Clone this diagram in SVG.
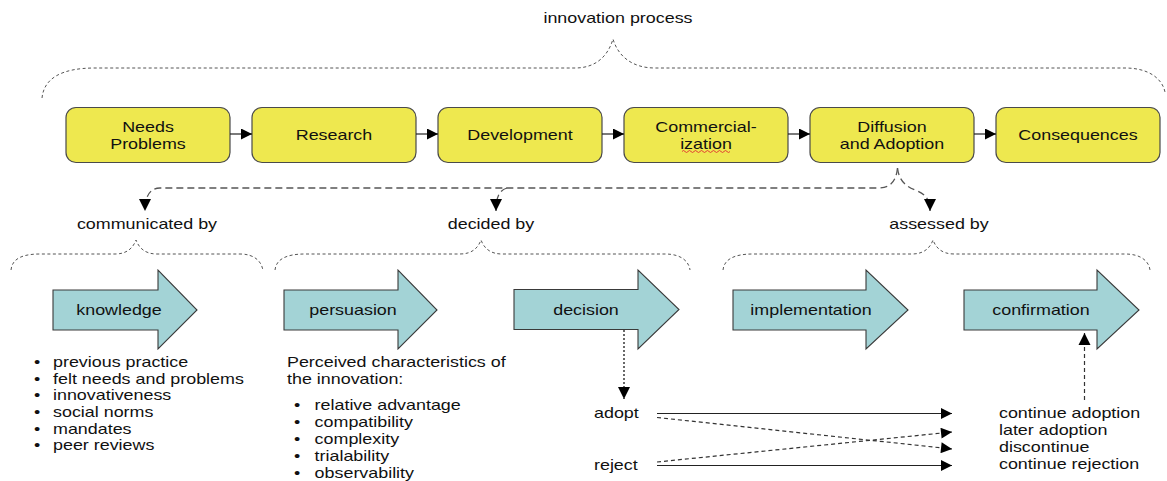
<svg xmlns="http://www.w3.org/2000/svg" width="1167" height="481" viewBox="0 0 1167 481">
<defs>
<style>
text{font-family:"Liberation Sans",Arial,sans-serif;font-size:14.8px;fill:#111}
.c{text-anchor:middle}
.box{fill:#EEE84F;stroke:#4a4a4a;stroke-width:1.2}
.big{fill:#A3D3D6;stroke:#3a3a3a;stroke-width:1.1}
.brace{fill:none;stroke:#555;stroke-width:1;stroke-dasharray:3 2.5}
.brace2{fill:none;stroke:#555;stroke-width:1.3;stroke-dasharray:7 4}
.solid{fill:none;stroke:#222;stroke-width:1.2}
.dash{fill:none;stroke:#333;stroke-width:1.2;stroke-dasharray:4 3}
.dot{fill:none;stroke:#444;stroke-width:1.6;stroke-dasharray:2 2}
</style>
<marker id="tri" viewBox="0 0 10 10" refX="10" refY="5" markerWidth="14" markerHeight="11" markerUnits="userSpaceOnUse" orient="auto"><path d="M0,0 L10,5 L0,10 z" fill="#000"/></marker>
<marker id="tri2" viewBox="0 0 10 10" refX="10" refY="5" markerWidth="12" markerHeight="13" markerUnits="userSpaceOnUse" orient="auto"><path d="M0,0 L10,5 L0,10 z" fill="#000"/></marker>
</defs>

<g id="title">
<g transform="scale(1.21,1)"><text class="c" x="510.74" y="23">innovation process</text></g>
<path class="brace" d="M42 98 C44 78,62 68,95 68 L575 68 C596 68,608 56,613 39 C618 56,632 68,655 68 L1125 68 C1148 68,1162 78,1165 92"/>
</g>

<g id="box-needs"><rect class="box" x="66" y="107.5" width="164" height="55" rx="10"/><g transform="scale(1.21,1)"><text class="c" x="122.31" y="132">Needs</text><text class="c" x="122.31" y="149">Problems</text></g></g>
<g id="box-research"><rect class="box" x="252" y="107.5" width="164" height="55" rx="10"/><g transform="scale(1.21,1)"><text class="c" x="276.03" y="140.5">Research</text></g></g>
<g id="box-development"><rect class="box" x="438" y="107.5" width="164" height="55" rx="10"/><g transform="scale(1.21,1)"><text class="c" x="429.75" y="140.5">Development</text></g></g>
<g id="box-commercialization"><rect class="box" x="624" y="107.5" width="164" height="55" rx="10"/><g transform="scale(1.21,1)"><text class="c" x="583.47" y="132">Commercial-</text><text class="c" x="583.47" y="149">ization</text></g><path d="M682 151.5 q1.5 -2 3 0 t3 0 t3 0 t3 0 t3 0 t3 0 t3 0 t3 0 t3 0 t3 0 t3 0 t3 0 t3 0 t3 0 t3 0 t3 0" fill="none" stroke="#e03030" stroke-width="0.9"/></g>
<g id="box-diffusion"><rect class="box" x="810" y="107.5" width="164" height="55" rx="10"/><g transform="scale(1.21,1)"><text class="c" x="737.19" y="132">Diffusion</text><text class="c" x="737.19" y="149">and Adoption</text></g></g>
<g id="box-consequences"><rect class="box" x="996" y="107.5" width="164" height="55" rx="10"/><g transform="scale(1.21,1)"><text class="c" x="890.91" y="140.5">Consequences</text></g></g>

<g id="connectors">
<line class="solid" x1="230" y1="134" x2="252" y2="134" marker-end="url(#tri)"/>
<line class="solid" x1="416" y1="134" x2="438" y2="134" marker-end="url(#tri)"/>
<line class="solid" x1="602" y1="134" x2="624" y2="134" marker-end="url(#tri)"/>
<line class="solid" x1="788" y1="134" x2="810" y2="134" marker-end="url(#tri)"/>
<line class="solid" x1="974" y1="134" x2="996" y2="134" marker-end="url(#tri)"/>

<path class="brace2" d="M897.5 168 C896 182,890 188,878 188 L160 188 C150 188,145 196,145 211" marker-end="url(#tri2)"/>
<path class="brace2" d="M507 188 C500 190,496 196,496 211" marker-end="url(#tri2)"/>
<path class="brace2" d="M897.5 168 C899 180,905 186,915 190 C926 194,930 200,930 211" marker-end="url(#tri2)"/>

<path class="dot" d="M624 330 L624 399" marker-end="url(#tri2)"/>
<path class="dash" d="M1084.5 400 L1084.5 333" marker-end="url(#tri2)"/>

<line class="solid" x1="657" y1="413.5" x2="952" y2="413.5" marker-end="url(#tri)"/>
<line class="dash" x1="657" y1="417.5" x2="952" y2="449" marker-end="url(#tri)"/>
<line class="dash" x1="657" y1="462" x2="952" y2="432" marker-end="url(#tri)"/>
<line class="solid" x1="657" y1="465.5" x2="952" y2="465.5" marker-end="url(#tri)"/>
</g>

<g id="labels" transform="scale(1.21,1)">
<text class="c" x="121.49" y="229">communicated by</text>
<text class="c" x="405.79" y="229">decided by</text>
<text class="c" x="776.03" y="229">assessed by</text>
</g>

<g id="sub-braces">
<path class="brace" d="M11 270 C12 260,20 254,40 254 L115 254 C127 254,133 248,136 240 C139 248,145 254,157 254 L240 254 C255 254,262 262,263 271"/>
<path class="brace" d="M275 270 C276 260,285 254,305 254 L460 254 C472 254,478 248,481 240 C484 248,490 254,502 254 L665 254 C682 254,689 262,690 270"/>
<path class="brace" d="M723 270 C724 260,733 254,753 254 L912 254 C924 254,930 248,933 240 C936 248,942 254,954 254 L1125 254 C1142 254,1149 262,1150 270"/>
</g>

<g id="stage-knowledge"><path class="big" d="M53 290 L158 290 L158 270 L197 310 L158 349 L158 330 L53 330 Z"/><g transform="scale(1.21,1)"><text class="c" x="98.35" y="315">knowledge</text></g></g>
<g id="stage-persuasion"><path class="big" d="M284 290 L398 290 L398 270 L437 310 L398 349 L398 330 L284 330 Z"/><g transform="scale(1.21,1)"><text class="c" x="291.74" y="315">persuasion</text></g></g>
<g id="stage-decision"><path class="big" d="M514 289.5 L638 289.5 L638 270 L679 309.5 L638 349 L638 329.5 L514 329.5 Z"/><g transform="scale(1.21,1)"><text class="c" x="484.30" y="315">decision</text></g></g>
<g id="stage-implementation"><path class="big" d="M733 290 L866 290 L866 270 L908 310 L866 349 L866 330 L733 330 Z"/><g transform="scale(1.21,1)"><text class="c" x="670.25" y="315">implementation</text></g></g>
<g id="stage-confirmation"><path class="big" d="M964 290 L1097 290 L1097 270 L1139 310 L1097 349 L1097 330 L964 330 Z"/><g transform="scale(1.21,1)"><text class="c" x="860.33" y="315">confirmation</text></g></g>

<g id="knowledge-list" transform="scale(1.21,1)">
<text x="28.1" y="367">•</text><text x="43.8" y="367">previous practice</text>
<text x="28.1" y="383.7">•</text><text x="43.8" y="383.7">felt needs and problems</text>
<text x="28.1" y="400.4">•</text><text x="43.8" y="400.4">innovativeness</text>
<text x="28.1" y="417.1">•</text><text x="43.8" y="417.1">social norms</text>
<text x="28.1" y="433.8">•</text><text x="43.8" y="433.8">mandates</text>
<text x="28.1" y="450.5">•</text><text x="43.8" y="450.5">peer reviews</text>
</g>

<g id="persuasion-list" transform="scale(1.21,1)">
<text x="237.19" y="367">Perceived characteristics of</text>
<text x="237.19" y="384">the innovation:</text>
<text x="243" y="410">•</text><text x="260" y="410">relative advantage</text>
<text x="243" y="427">•</text><text x="260" y="427">compatibility</text>
<text x="243" y="444">•</text><text x="260" y="444">complexity</text>
<text x="243" y="461">•</text><text x="260" y="461">trialability</text>
<text x="243" y="478">•</text><text x="260" y="478">observability</text>
</g>

<g id="decision-outcomes" transform="scale(1.21,1)">
<text x="490.91" y="418.5">adopt</text>
<text x="490.91" y="470.5">reject</text>
</g>

<g id="confirmation-outcomes" transform="scale(1.21,1)">
<text x="825.62" y="418.5">continue adoption</text>
<text x="825.62" y="435.5">later adoption</text>
<text x="825.62" y="452.5">discontinue</text>
<text x="825.62" y="469.5">continue rejection</text>
</g>
</svg>
